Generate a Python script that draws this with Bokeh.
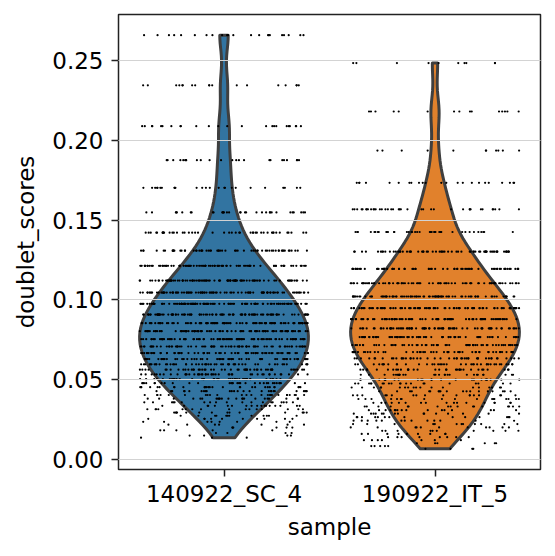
import numpy as np
from bokeh.plotting import figure
from bokeh.models import Range1d, FixedTicker, NumeralTickFormatter
from bokeh.embed import file_html
from bokeh.resources import INLINE

# ---------------- data ----------------
samples = ["140922_SC_4", "190922_IT_5"]
fill_colors = ["#3274a1", "#e1812c"]

# doublet score levels (discrete values) and number of cells at each level
sc4_levels = [0.2658, 0.2344, 0.2088, 0.1875, 0.1702, 0.1548, 0.1421, 0.1308,
              0.1213, 0.1121, 0.1046, 0.0975, 0.0908, 0.0854, 0.0804, 0.0754,
              0.0708, 0.0667, 0.0629, 0.0596, 0.0563, 0.0533, 0.0504, 0.0478,
              0.0453, 0.0428, 0.0404, 0.0381, 0.0358, 0.0336, 0.0315, 0.0294,
              0.0274, 0.0255, 0.0236, 0.0218, 0.0200, 0.0183, 0.0166, 0.0150,
              0.0137]
sc4_counts = [22, 18, 24, 24, 25, 33, 45, 60,
              81, 95, 95, 102, 99, 88, 88, 85,
              76, 67, 58, 52, 48, 44, 39, 32,
              29, 27, 25, 23, 19, 18, 16, 14,
              12, 10, 8, 7, 6, 5, 4, 4,
              3]

it5_levels = [0.2483, 0.2180, 0.1935, 0.1733, 0.1567, 0.1425, 0.1302, 0.1194,
              0.1104, 0.1021, 0.0948, 0.0879, 0.0821, 0.0767, 0.0717, 0.0673,
              0.0633, 0.0596, 0.0563, 0.0531, 0.0500, 0.0476, 0.0451, 0.0427,
              0.0402, 0.0379, 0.0355, 0.0332, 0.0309, 0.0287, 0.0265, 0.0243,
              0.0222, 0.0201, 0.0180, 0.0160, 0.0140, 0.0121, 0.0102, 0.0084,
              0.0067]
it5_counts = [10, 15, 11, 23, 38, 40, 65, 67,
              75, 82, 83, 80, 73, 67, 59, 51,
              45, 39, 33, 28, 24, 20, 19, 19,
              18, 18, 17, 17, 16, 15, 14, 13,
              12, 11, 10, 9, 8, 7, 6, 5,
              4]

y_ticks = [0.0, 0.05, 0.10, 0.15, 0.20, 0.25]
x_label = "sample"
y_label = "doublet_scores"

# ---------------- build ----------------
levels = [np.array(sc4_levels), np.array(it5_levels)]
counts = [np.array(sc4_counts), np.array(it5_counts)]
values = [np.repeat(l, c) for l, c in zip(levels, counts)]

all_vals = np.concatenate(values)
vmin, vmax = all_vals.min(), all_vals.max()
span = vmax - vmin

W, H = 548, 548
p = figure(width=W, height=H, output_backend="svg", toolbar_location=None,
           x_range=Range1d(-0.5, 1.5),
           y_range=Range1d(vmin - 0.05 * span, vmax + 0.05 * span),
           min_border_left=118, min_border_right=8, min_border_top=14,
           min_border_bottom=79)
p.background_fill_color = "white"
p.border_fill_color = "white"

half_width = 0.4
for i, vals in enumerate(values):
    n = len(vals)
    bw = vals.std(ddof=1) * n ** (-1.0 / 5.0)
    grid = np.linspace(vals.min(), vals.max(), 100)
    dens = np.exp(-0.5 * ((grid[:, None] - vals[None, :]) / bw) ** 2).sum(axis=1)
    w = dens / dens.max() * half_width
    xs = np.concatenate([i + w, (i - w)[::-1]])
    ys = np.concatenate([grid, grid[::-1]])
    p.patch(xs, ys, fill_color=fill_colors[i], line_color="#3f3f3f",
            line_width=3, line_join="round")


def jitter_fraction(idx):
    """Deterministic integer hash (splitmix64 finaliser) -> [0, 1) offsets."""
    z = idx.astype(np.uint64) * np.uint64(0x9E3779B97F4A7C15)
    z = (z ^ (z >> np.uint64(30))) * np.uint64(0xBF58476D1CE4E5B9)
    z = (z ^ (z >> np.uint64(27))) * np.uint64(0x94D049BB133111EB)
    z = z ^ (z >> np.uint64(31))
    return (z >> np.uint64(11)).astype(np.float64) / float(2 ** 53)


with np.errstate(over="ignore"):
    for i, vals in enumerate(values):
        k = np.arange(len(vals)) + 5000 * i + 1
        frac = jitter_fraction(k)
        xj = i + half_width * (2 * frac - 1)
        p.scatter(xj, vals, size=2.2, fill_color="black", line_color=None)

p.xaxis.ticker = FixedTicker(ticks=[0, 1])
p.xaxis.major_label_overrides = {0: samples[0], 1: samples[1]}
p.yaxis.ticker = FixedTicker(ticks=y_ticks)
p.yaxis.formatter = NumeralTickFormatter(format="0.00")
p.xaxis.axis_label = x_label
p.yaxis.axis_label = y_label

for ax in [p.xaxis[0], p.yaxis[0]]:
    ax.axis_line_color = None
    ax.major_tick_out = 7
    ax.major_tick_in = 0
    ax.major_tick_line_color = "#222222"
    ax.major_tick_line_width = 1.5
    ax.minor_tick_line_color = None
    ax.major_label_text_font = "DejaVu Sans"
    ax.major_label_text_font_size = "23px"
    ax.major_label_text_color = "black"
    ax.axis_label_text_font = "DejaVu Sans"
    ax.axis_label_text_font_size = "23px"
    ax.axis_label_text_font_style = "normal"
    ax.axis_label_text_color = "black"
p.yaxis.major_label_standoff = 8
p.xaxis.major_label_standoff = 4
p.yaxis.axis_label_standoff = 10
p.xaxis.axis_label_standoff = 4

p.xgrid.visible = False
p.ygrid.ticker = FixedTicker(ticks=y_ticks)
p.ygrid.grid_line_color = "#d3d3d3"
p.ygrid.grid_line_width = 1
p.ygrid.level = "annotation"

p.outline_line_color = "#222222"
p.outline_line_width = 1.5

open("out.html", "w").write(file_html(p, INLINE))
